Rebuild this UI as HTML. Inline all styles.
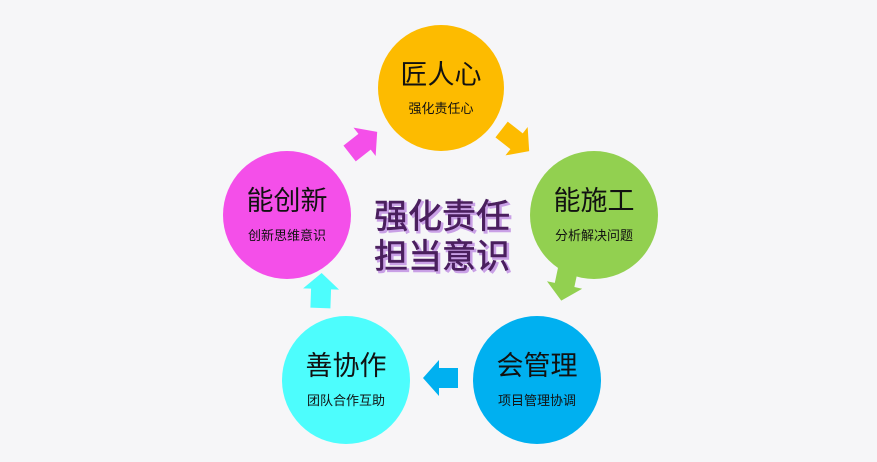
<!DOCTYPE html>
<html><head><meta charset="utf-8"><style>
body{margin:0;width:877px;height:462px;background:#f6f6f8;overflow:hidden;font-family:"Liberation Sans","Noto Sans CJK SC",sans-serif}
</style></head><body>
<svg width="877" height="462" xmlns="http://www.w3.org/2000/svg" style="position:absolute;left:0;top:0">
<defs><polygon id="a" points="-17,-10 2,-10 2,-18 18,0 2,18 2,10 -17,10"/></defs>
<circle cx="441" cy="88" r="63" fill="#fdbb00"/>
<circle cx="594" cy="215" r="64" fill="#92d050"/>
<circle cx="537" cy="380" r="64" fill="#00b0f0"/>
<circle cx="346" cy="380" r="64" fill="#4dfdfd"/>
<circle cx="287" cy="215" r="64" fill="#f44fe9"/>
<use href="#a" fill="#f44fe9" transform="translate(363,143) rotate(-38)"/>
<use href="#a" fill="#fdbb00" transform="translate(515,140) rotate(38)"/>
<use href="#a" fill="#92d050" transform="translate(565,283) rotate(102)"/>
<use href="#a" fill="#00b0f0" transform="translate(441,378) rotate(180)"/>
<use href="#a" fill="#4dfdfd" transform="translate(321,291) rotate(-88)"/>
<g font-family="Liberation Sans, Noto Sans CJK SC, sans-serif" text-anchor="middle" fill="#111">
<text x="441" y="84" font-size="27">匠人心</text><text x="441" y="113" font-size="13">强化责任心</text>
<text x="594" y="210" font-size="27">能施工</text><text x="594" y="240" font-size="13">分析解决问题</text>
<text x="537" y="375" font-size="27">会管理</text><text x="537" y="405" font-size="13">项目管理协调</text>
<text x="346" y="375" font-size="27">善协作</text><text x="346" y="405" font-size="13">团队合作互助</text>
<text x="287" y="210" font-size="27">能创新</text><text x="287" y="240" font-size="13">创新思维意识</text>
</g>
<g font-family="Liberation Sans, Noto Sans CJK SC, sans-serif" text-anchor="middle" font-size="34">
<text x="444" y="230" fill="#c9a0e6" stroke="#c9a0e6" stroke-width="1.5">强化责任</text>
<text x="444" y="270" fill="#c9a0e6" stroke="#c9a0e6" stroke-width="1.5">担当意识</text>
<text x="442" y="228" fill="#4a1f5e" stroke="#4a1f5e" stroke-width="0.6">强化责任</text>
<text x="442" y="268" fill="#4a1f5e" stroke="#4a1f5e" stroke-width="0.6">担当意识</text>
</g>
</svg>
</body></html>
